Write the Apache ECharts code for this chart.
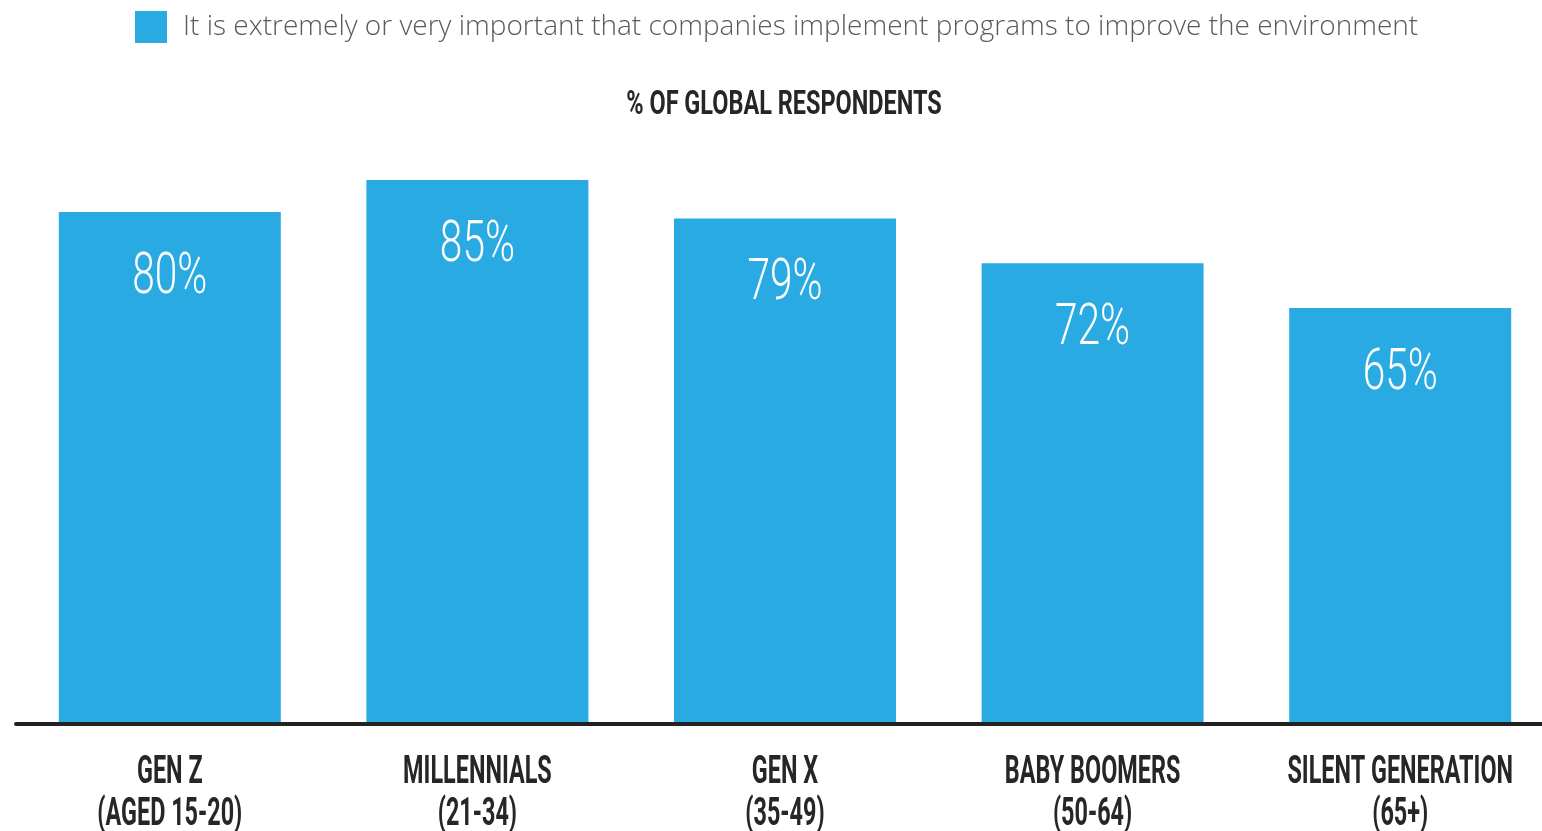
<!DOCTYPE html>
<html>
<head>
<meta charset="utf-8">
<script src="https://cdn.jsdelivr.net/npm/echarts@6/dist/echarts.min.js"></script>
<style>html,body{margin:0;padding:0;background:#fff;}#c{width:1542px;height:831px;}</style>
</head>
<body>
<div id="c"></div>
<script>
const categories = ['GEN Z\n(AGED 15-20)', 'MILLENNIALS\n(21-34)', 'GEN X\n(35-49)', 'BABY BOOMERS\n(50-64)', 'SILENT GENERATION\n(65+)'];
const seriesName = 'It is extremely or very important that companies implement programs to improve the environment';
const values = [80, 85, 79, 72, 65];
const titleText = '% OF GLOBAL RESPONDENTS';

const CAT_SCALE = 0.6;
const VAL_SCALE = 0.7;
const chart = echarts.init(document.getElementById('c'), null, {renderer: 'canvas'});
chart.setOption({
  animation: false,
  backgroundColor: '#ffffff',
  graphic: [{
    type: 'text', x: 784, y: 105, scaleX: 0.69,
    style: {text: titleText, font: 'bold 34px Roboto, sans-serif', fill: '#262626', align: 'center', verticalAlign: 'middle'}
  }],
  legend: {
    data: [seriesName],
    left: 135, top: 11, padding: 0,
    itemWidth: 32, itemHeight: 32,
    icon: 'rect',
    textStyle: {fontFamily: '"Open Sans", sans-serif', fontWeight: 300, fontSize: 28, color: '#5a5a5a', padding: [0, 0, 0, 11]}
  },
  grid: {left: 16, top: 84, width: 1538, height: 640, outerBoundsMode: 'none', containLabel: false},
  xAxis: {
    type: 'category',
    data: categories,
    z: 5,
    axisLine: {lineStyle: {color: '#222222', width: 4}},
    axisTick: {show: false},
    axisLabel: {
      interval: 0, margin: 28,
      fontFamily: 'Roboto, sans-serif', fontWeight: 'bold', fontSize: 39, lineHeight: 42, color: '#262626'
    }
  },
  yAxis: {type: 'value', min: 0, max: 100, show: false, splitLine: {show: false}},
  series: [{
    name: seriesName,
    type: 'bar',
    data: values,
    barWidth: 222,
    itemStyle: {color: '#29aae2'},
    label: {
      show: true, position: 'insideTop', distance: 37,
      formatter: '{c}%',
      fontFamily: 'Roboto, sans-serif', fontWeight: 300, fontSize: 58, color: '#ffffff'
    }
  }]
});

// Horizontally condense axis and value labels (the reference uses a condensed typeface)
(function condense() {
  const catSet = new Set(categories);
  const valSet = new Set(values.map(v => v + '%'));
  const zr = chart.getZr();
  function handleText(t, host) {
    const s = t.style && t.style.text;
    let k = null;
    if (catSet.has(s)) k = CAT_SCALE;
    else if (valSet.has(s)) k = VAL_SCALE;
    if (k == null) return;
    t.scaleX = k;
    t.originX = 0;
    t.markRedraw();
    if (host) host.markRedraw();
  }
  function walk(el) {
    if (!el) return;
    if (el.type === 'text') handleText(el, null);
    if (el.getTextContent) {
      const tc = el.getTextContent();
      if (tc) handleText(tc, el);
    }
    if (el.isGroup && el.eachChild) el.eachChild(walk);
  }
  try {
    zr.storage.getRoots().forEach(walk);
    zr.refreshImmediately();
  } catch (e) { console.error(e); }
})();
</script>
</body>
</html>
